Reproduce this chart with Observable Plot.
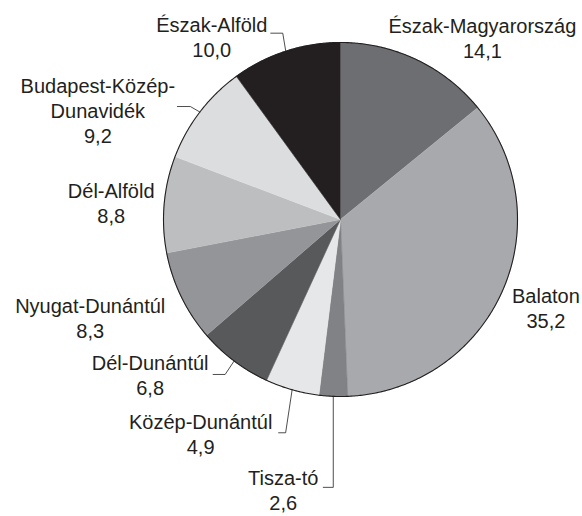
<!DOCTYPE html>
<html><head><meta charset="utf-8">
<script src="https://cdn.jsdelivr.net/npm/d3@7"></script>
<script src="https://cdn.jsdelivr.net/npm/@observablehq/plot@0.6"></script>
<style>body{margin:0;background:#fff} #chart{width:582px;height:516px}</style>
</head><body><div id="chart"></div>
<script>
// ---- data ----
const regions = ["Észak-Magyarország","Balaton","Tisza-tó","Közép-Dunántúl","Dél-Dunántúl","Nyugat-Dunántúl","Dél-Alföld","Budapest-Közép-Dunavidék","Észak-Alföld"];
const values = [14.1, 35.2, 2.6, 4.9, 6.8, 8.3, 8.8, 9.2, 10.0];
const labelLines = [["Észak-Magyarország"],["Balaton"],["Tisza-tó"],["Közép-Dunántúl"],["Dél-Dunántúl"],["Nyugat-Dunántúl"],["Dél-Alföld"],["Budapest-Közép-","Dunavidék"],["Észak-Alföld"]];
// ---- styles ----
const colors = ["#6d6e71","#a7a9ac","#808285","#e6e7e8","#58595b","#939598","#bcbec0","#dcdddf","#231f20"];
// ---- layout (pixels) ----
const W = 582, H = 516, R = 177, CX = 340, CY = 219, LINE = 25;
const labelOffset = [[66,-27],[44,11],[-50,89],[-91.5,39],[-84,9],[-91,16],[-53,-6],[-102,-19.5],[-74,-19]];
const leaders = {2: [[0,91],[-10,91]], 3: [[-6.5,43],[-13.5,43]], 4: [[-9,13.5],[-21,13.5]], 7: [[-9.5,-5.5],[-22.5,-5.5]], 8: [[-3,-18],[-15,-18]]};

const arcs = d3.pie().sort(null).value(d => d)(values);
const polar = (a, r) => ({x: r * Math.sin(a), y: r * Math.cos(a)});
const slicePts = [];
arcs.forEach((a, i) => {
  slicePts.push({name: regions[i], color: colors[i], x: 0, y: 0});
  const n = Math.max(2, Math.ceil((a.endAngle - a.startAngle) / 0.005));
  for (let k = 0; k <= n; k++) {
    const t = a.startAngle + (a.endAngle - a.startAngle) * k / n;
    slicePts.push({name: regions[i], color: colors[i], ...polar(t, 1)});
  }
});
const circle = d3.range(0, 721).map(k => polar(k / 720 * 2 * Math.PI, 1));
const texts = [], leaderPts = [];
arcs.forEach((a, i) => {
  const m = polar((a.startAngle + a.endAngle) / 2, 1);
  const [ox, oy] = labelOffset[i];
  const lines = [...labelLines[i], values[i].toFixed(1).replace(".", ",")];
  lines.forEach((s, j) => texts.push({text: s, x: m.x + ox / R, y: m.y - (oy + j * LINE) / R}));
  if (leaders[i]) {
    leaderPts.push({name: regions[i], x: m.x, y: m.y});
    leaders[i].forEach(([dx, dy]) => leaderPts.push({name: regions[i], x: m.x + dx / R, y: m.y - dy / R}));
  }
});

const chart = Plot.plot({
  width: W, height: H, margin: 0,
  x: {domain: [-CX / R, (W - CX) / R], range: [0, W], axis: null},
  y: {domain: [-(H - CY) / R, CY / R], range: [H, 0], axis: null},
  color: {type: "identity"},
  style: {fontFamily: "Liberation Sans, Arial, sans-serif", background: "#fff"},
  marks: [
    Plot.line(slicePts, {x: "x", y: "y", z: "name", fill: "color", stroke: "color", strokeWidth: 0.6}),
    Plot.line(circle, {x: "x", y: "y", stroke: "#231f20", strokeWidth: 1.1}),
    Plot.line(leaderPts, {x: "x", y: "y", z: "name", stroke: "#231f20", strokeWidth: 0.8}),
    Plot.text(texts, {x: "x", y: "y", text: "text", fontSize: 20, lineAnchor: "bottom", textAnchor: "middle", fill: "#231f20"})
  ]
});
document.getElementById("chart").appendChild(chart);
</script>
</body></html>
